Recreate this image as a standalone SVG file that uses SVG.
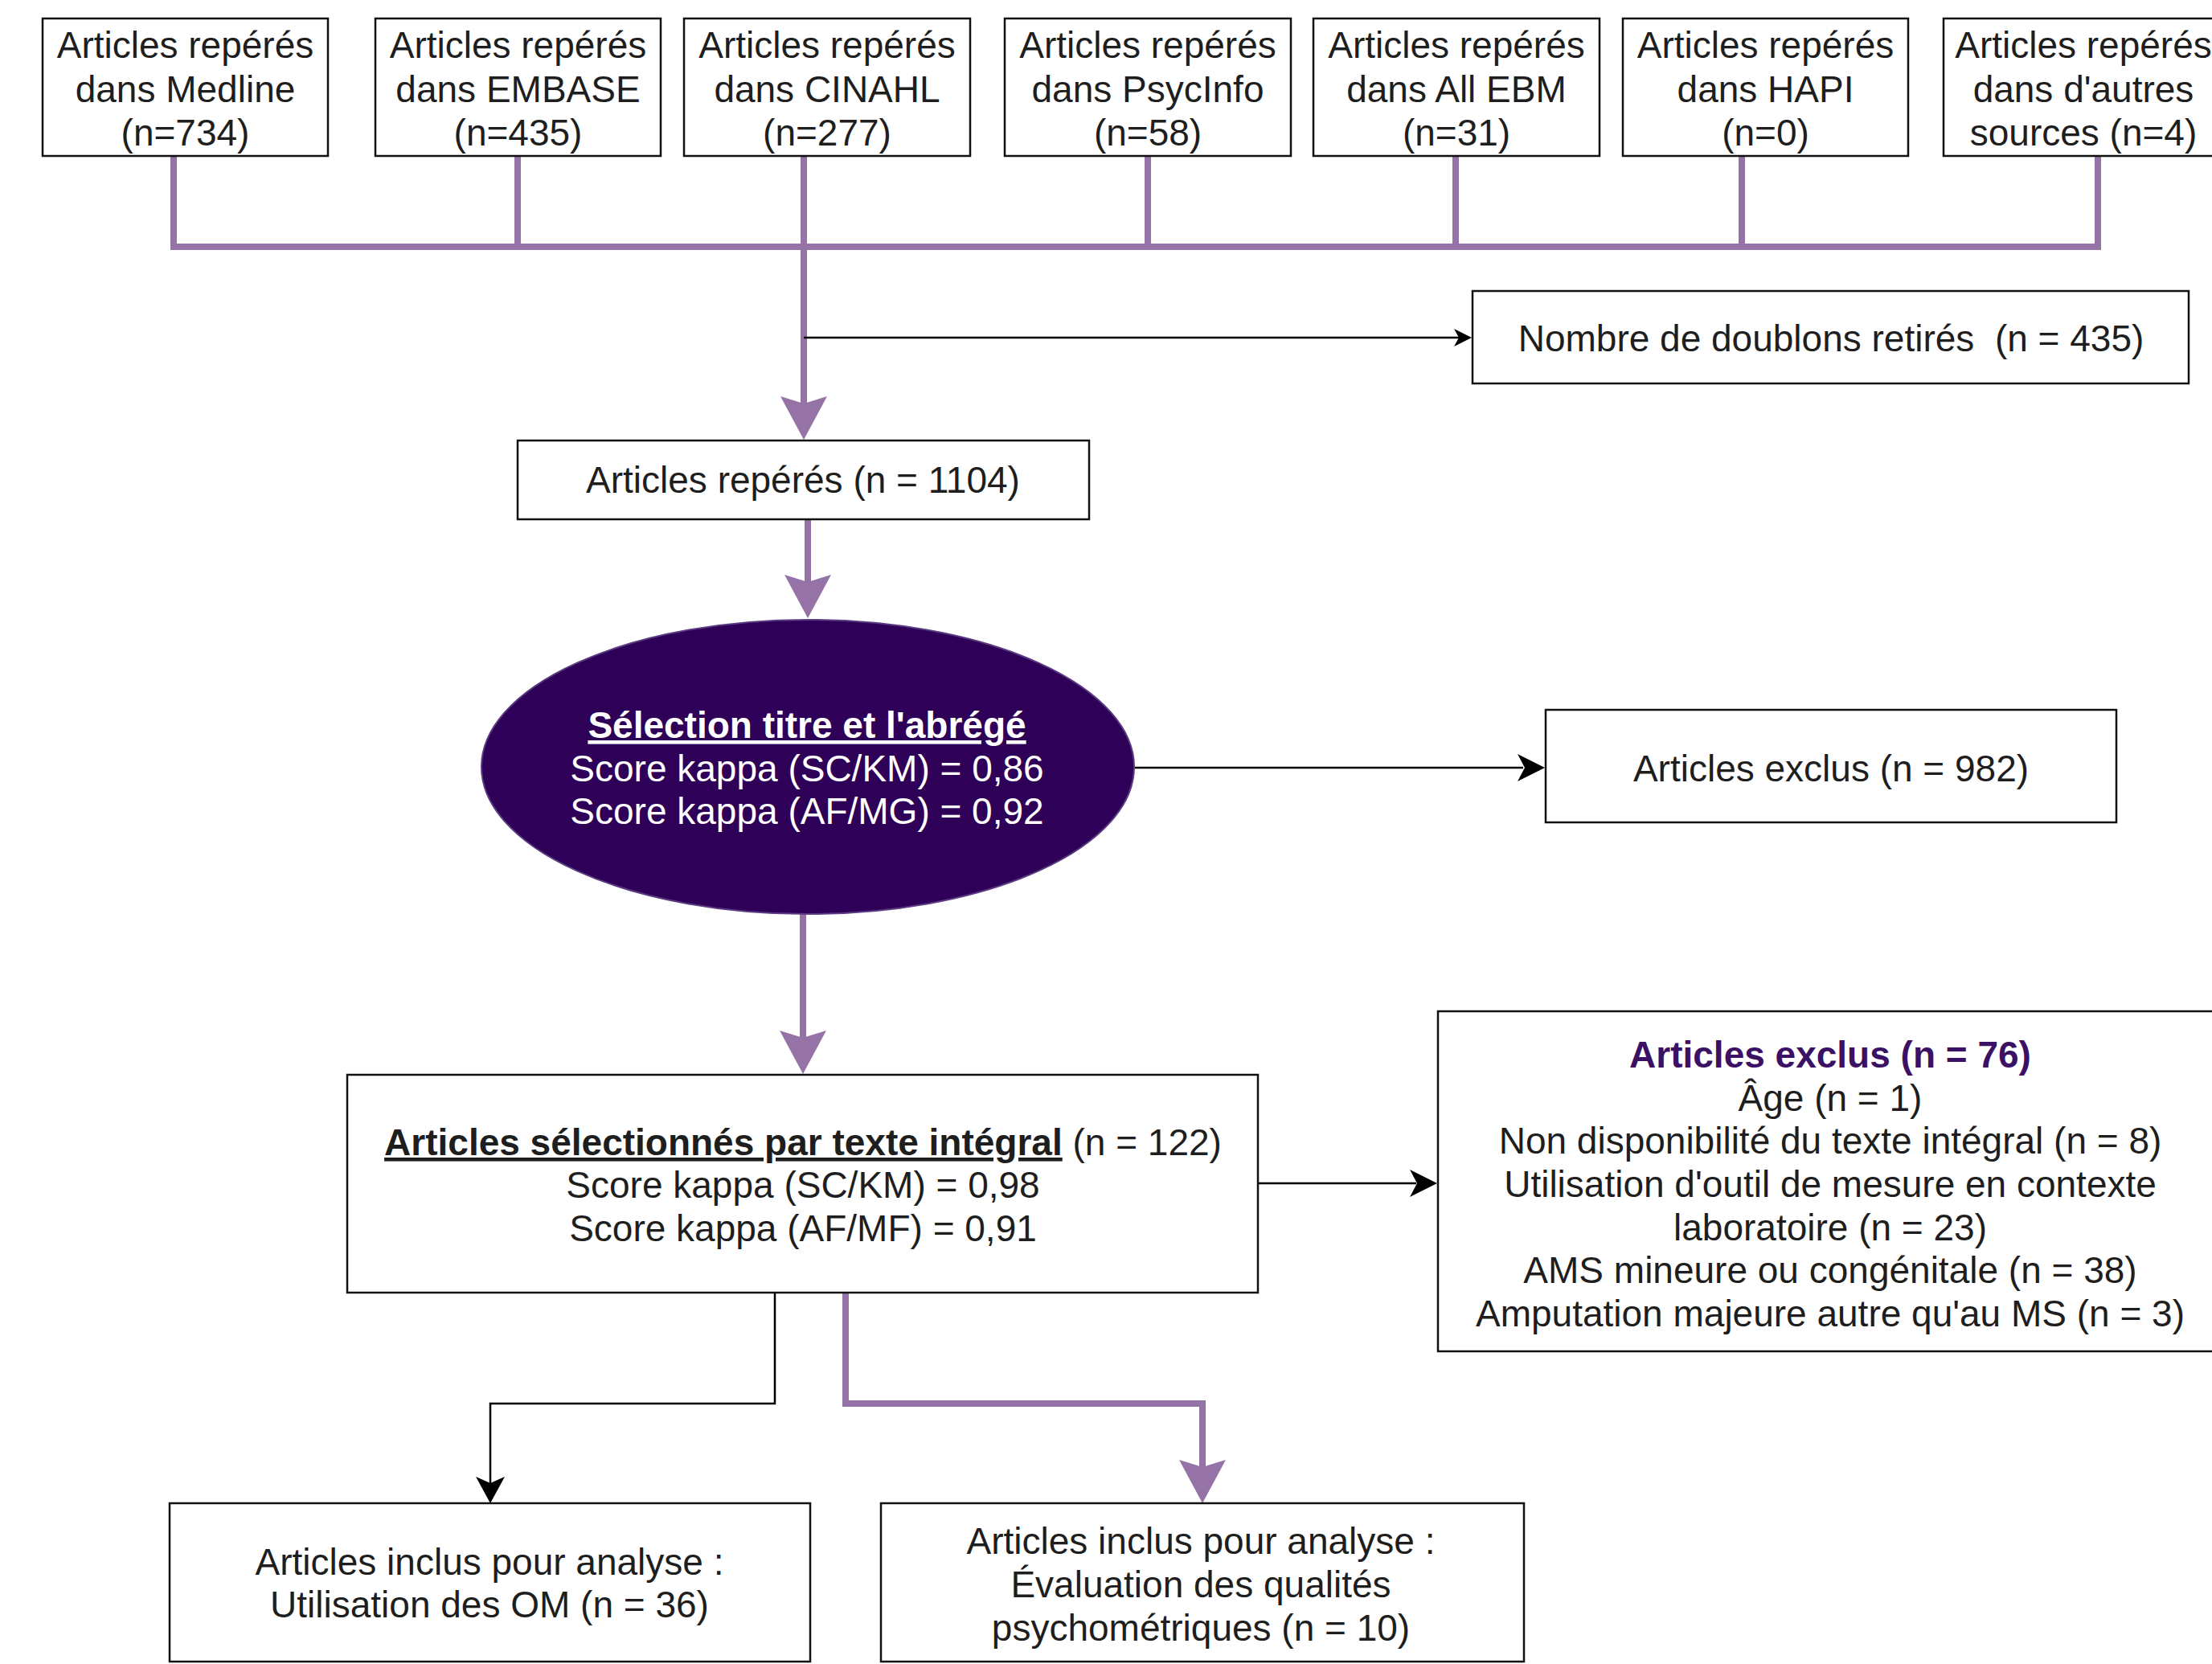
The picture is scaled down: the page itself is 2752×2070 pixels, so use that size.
<svg xmlns="http://www.w3.org/2000/svg" xmlns:xlink="http://www.w3.org/1999/xlink" width="2752" height="2070" viewBox="0 0 2752 2070">
<style>
  .box { fill: #ffffff; stroke: #111111; stroke-width: 2.5; }
  .t { font-family: "Liberation Sans", Arial, sans-serif; font-size: 46px; fill: #1e1e1e; text-anchor: middle; }
  .w { fill: #ffffff; }
  .b { font-weight: bold; }
  .u { text-decoration: underline; }
  .pl { fill: none; stroke: #9673a6; stroke-width: 8; stroke-linejoin: miter; stroke-linecap: butt; }
  .bl { fill: none; stroke: #000000; stroke-width: 2.5; }
  .pa { fill: #9673a6; }
  .ba { fill: #000000; }
</style>
<defs>
  <path id="ahPurpleDown" class="pa" d="M0,0 L-29,-54 L0,-45 L29,-54 Z"/>
  <path id="ahBlackRight" class="ba" d="M0,0 L-34,-17 L-25,0 L-34,17 Z"/>
  <path id="ahBlackRightSmall" class="ba" d="M0,0 L-22,-11 L-16,0 L-22,11 Z"/>
  <path id="ahBlackDown" class="ba" d="M0,0 L-18,-33 L0,-25 L18,-33 Z"/>
</defs>
<rect x="0" y="0" width="2752" height="2070" fill="#ffffff"/>

<g id="connectors">
  <!-- purple source merges -->
  <path class="pl" d="M216,194 V307 H2610 V194"/>
  <path class="pl" d="M644,194 V307"/>
  <path class="pl" d="M1428,194 V307"/>
  <path class="pl" d="M1811,194 V307"/>
  <path class="pl" d="M2167,194 V307"/>
  <path class="pl" d="M1000,194 V505"/>
  <use href="#ahPurpleDown" x="1000" y="547"/>
  <!-- duplicates -->
  <path class="bl" d="M1000,420 H1815"/>
  <use href="#ahBlackRightSmall" x="1831" y="420"/>
  <!-- 1104 to ellipse -->
  <path class="pl" d="M1005,646 V730"/>
  <use href="#ahPurpleDown" x="1005" y="769"/>
  <!-- ellipse to excluded 982 -->
  <path class="bl" d="M1411,955 H1895"/>
  <use href="#ahBlackRight" x="1922" y="955"/>
  <!-- ellipse to full text -->
  <path class="pl" d="M999,1137 V1296"/>
  <use href="#ahPurpleDown" x="999" y="1336"/>
  <!-- full text to excluded 76 -->
  <path class="bl" d="M1565,1472 H1762"/>
  <use href="#ahBlackRight" x="1788" y="1472"/>
  <!-- full text to included OM -->
  <path class="bl" d="M964,1608 V1746 H610 V1845"/>
  <use href="#ahBlackDown" x="610" y="1870"/>
  <!-- full text to psychometric -->
  <path class="pl" d="M1052,1608 V1746 H1496 V1830"/>
  <use href="#ahPurpleDown" x="1496" y="1870"/>
</g>

<g id="node-medline">
  <rect class="box" x="53" y="23" width="355" height="171"/>
  <text class="t"><tspan x="230.5" y="72">Articles repérés</tspan><tspan x="230.5" y="127">dans Medline</tspan><tspan x="230.5" y="181">(n=734)</tspan></text>
</g>
<g id="node-embase">
  <rect class="box" x="467" y="23" width="355" height="171"/>
  <text class="t"><tspan x="644.5" y="72">Articles repérés</tspan><tspan x="644.5" y="127">dans EMBASE</tspan><tspan x="644.5" y="181">(n=435)</tspan></text>
</g>
<g id="node-cinahl">
  <rect class="box" x="851" y="23" width="356" height="171"/>
  <text class="t"><tspan x="1029" y="72">Articles repérés</tspan><tspan x="1029" y="127">dans CINAHL</tspan><tspan x="1029" y="181">(n=277)</tspan></text>
</g>
<g id="node-psycinfo">
  <rect class="box" x="1250" y="23" width="356" height="171"/>
  <text class="t"><tspan x="1428" y="72">Articles repérés</tspan><tspan x="1428" y="127">dans PsycInfo</tspan><tspan x="1428" y="181">(n=58)</tspan></text>
</g>
<g id="node-allebm">
  <rect class="box" x="1634" y="23" width="356" height="171"/>
  <text class="t"><tspan x="1812" y="72">Articles repérés</tspan><tspan x="1812" y="127">dans All EBM</tspan><tspan x="1812" y="181">(n=31)</tspan></text>
</g>
<g id="node-hapi">
  <rect class="box" x="2019" y="23" width="355" height="171"/>
  <text class="t"><tspan x="2196.5" y="72">Articles repérés</tspan><tspan x="2196.5" y="127">dans HAPI</tspan><tspan x="2196.5" y="181">(n=0)</tspan></text>
</g>
<g id="node-autres">
  <rect class="box" x="2418" y="23" width="355" height="171"/>
  <text class="t"><tspan x="2592" y="72">Articles repérés</tspan><tspan x="2592" y="127">dans d'autres</tspan><tspan x="2592" y="181">sources (n=4)</tspan></text>
</g>

<g id="node-doublons">
  <rect class="box" x="1832" y="362" width="891" height="115"/>
  <text class="t" x="2278" y="437">Nombre de doublons retirés&#160; (n = 435)</text>
</g>

<g id="node-reperes">
  <rect class="box" x="644" y="548" width="711" height="98"/>
  <text class="t" x="999" y="613">Articles repérés (n = 1104)</text>
</g>

<g id="node-selection">
  <ellipse cx="1005" cy="954" rx="406" ry="183" fill="#2e0057" stroke="#5a3a80" stroke-width="2"/>
  <text class="t w"><tspan x="1004" y="918" class="b u">Sélection titre et l'abrégé</tspan><tspan x="1004" y="972">Score kappa (SC/KM) = 0,86</tspan><tspan x="1004" y="1025">Score kappa (AF/MG) = 0,92</tspan></text>
</g>

<g id="node-exclus982">
  <rect class="box" x="1923" y="883" width="710" height="140"/>
  <text class="t" x="2278" y="972">Articles exclus (n = 982)</text>
</g>

<g id="node-textint">
  <rect class="box" x="432" y="1337" width="1133" height="271"/>
  <text class="t"><tspan x="999" y="1437"><tspan class="b u">Articles sélectionnés par texte intégral</tspan> (n = 122)</tspan><tspan x="999" y="1490">Score kappa (SC/KM) = 0,98</tspan><tspan x="999" y="1544">Score kappa (AF/MF) = 0,91</tspan></text>
</g>

<g id="node-exclus76">
  <rect class="box" x="1789" y="1258" width="976" height="423"/>
  <text class="t"><tspan x="2277" y="1328" class="b" fill="#3b1166" style="fill:#3b1166">Articles exclus (n = 76)</tspan><tspan x="2277" y="1382">Âge (n = 1)</tspan><tspan x="2277" y="1435">Non disponibilité du texte intégral (n = 8)</tspan><tspan x="2277" y="1489">Utilisation d'outil de mesure en contexte</tspan><tspan x="2277" y="1543">laboratoire (n = 23)</tspan><tspan x="2277" y="1596">AMS mineure ou congénitale (n = 38)</tspan><tspan x="2277" y="1650">Amputation majeure autre qu'au MS (n = 3)</tspan></text>
</g>

<g id="node-inclus-om">
  <rect class="box" x="211" y="1870" width="797" height="197"/>
  <text class="t"><tspan x="609" y="1959">Articles inclus pour analyse :</tspan><tspan x="609" y="2012">Utilisation des OM (n = 36)</tspan></text>
</g>

<g id="node-inclus-psy">
  <rect class="box" x="1096" y="1870" width="800" height="197"/>
  <text class="t"><tspan x="1494" y="1933">Articles inclus pour analyse :</tspan><tspan x="1494" y="1987">Évaluation des qualités</tspan><tspan x="1494" y="2041">psychométriques (n = 10)</tspan></text>
</g>
</svg>
